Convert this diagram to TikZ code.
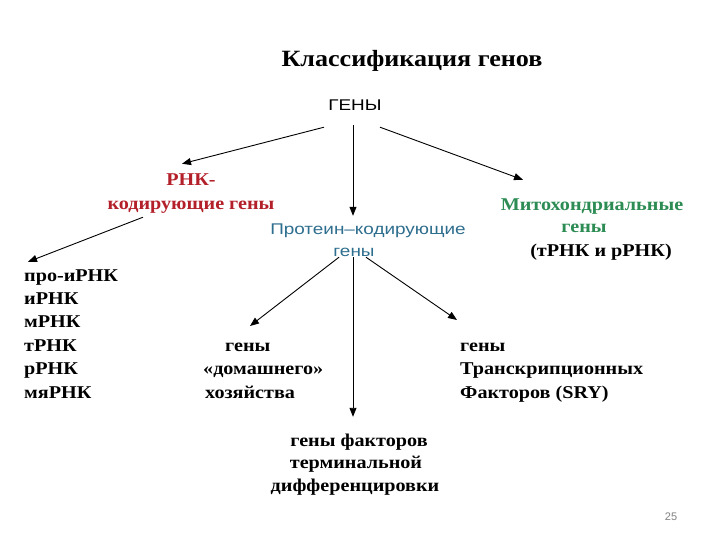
\documentclass[tikz,border=0pt]{standalone}
\usepackage{fontspec}
\setmainfont[FakeStretch=1.12]{Liberation Serif}
\newfontfamily\sansf[FakeStretch=1.22]{Liberation Sans}
\newfontfamily\plainsans{Liberation Sans}
\usetikzlibrary{arrows.meta}
\definecolor{rnared}{RGB}{180,32,42}
\definecolor{mitogreen}{RGB}{44,140,84}
\definecolor{protblue}{RGB}{46,110,142}
\definecolor{pagegray}{RGB}{130,130,130}
\begin{document}
\begin{tikzpicture}[x=1pt,y=-1pt,
  lbl/.style={font=\bfseries\fontsize{18}{22}\selectfont, inner sep=0pt, text height=12pt, text depth=4pt},
  sanslbl/.style={font=\sansf\fontsize{15.5}{19}\selectfont, inner sep=0pt, text height=11pt, text depth=3pt},
  arr/.style={-{Triangle[length=9pt,width=7pt]}, line width=0.9pt}]
\useasboundingbox[fill=white] (0,0) rectangle (720,540);

% title
\node[lbl, font=\bfseries\fontsize{23.3}{27}\selectfont, anchor=base] (title) at (412,67) {Классификация генов};

% top
\node[sanslbl, anchor=base] (genes) at (355,111) {ГЕНЫ};

% RNA-coding
\node[lbl, anchor=base, text=rnared] (rna1) at (191,186) {РНК-};
\node[lbl, anchor=base, text=rnared] (rna2) at (191,210) {кодирующие гены};

% protein-coding
\node[sanslbl, anchor=base, text=protblue] (prot1) at (368,234) {Протеин–кодирующие};
\node[sanslbl, anchor=base, text=protblue] (prot2) at (354,256) {гены};

% mitochondrial
\node[lbl, anchor=base, text=mitogreen] (mito1) at (592,211) {Митохондриальные};
\node[lbl, anchor=base, text=mitogreen] (mito2) at (584,233) {гены};
\node[lbl, anchor=base] (mito3) at (601,256) {(тРНК и рРНК)};

% RNA list
\node[lbl, anchor=base west] (l1) at (24,281) {про-иРНК};
\node[lbl, anchor=base west] (l2) at (24,304.4) {иРНК};
\node[lbl, anchor=base west] (l3) at (24,327.8) {мРНК};
\node[lbl, anchor=base west] (l4) at (24,351.2) {тРНК};
\node[lbl, anchor=base west] (l5) at (24,374.6) {рРНК};
\node[lbl, anchor=base west] (l6) at (24,398) {мяРНК};

% housekeeping
\node[lbl, anchor=base west] (hk1) at (225,351.2) {гены};
\node[lbl, anchor=base west] (hk2) at (203,374.6) {«домашнего»};
\node[lbl, anchor=base west] (hk3) at (205,398) {хозяйства};

% transcription factors
\node[lbl, anchor=base west] (tf1) at (460,351.2) {гены};
\node[lbl, anchor=base west] (tf2) at (460,374.6) {Транскрипционных};
\node[lbl, anchor=base west] (tf3) at (460,398) {Факторов (SRY)};

% terminal differentiation
\node[lbl, anchor=base] (term1) at (359,446) {гены факторов};
\node[lbl, anchor=base] (term2) at (356,468) {терминальной};
\node[lbl, anchor=base] (term3) at (355,491) {дифференцировки};

% page number
\node[font=\plainsans\fontsize{11}{13}\selectfont, text=pagegray, anchor=base, inner sep=0pt] (pnum) at (671,520) {25};

% arrows
\draw[arr] ([shift={(-31,13)}]genes.south) -- ([shift={(-9,-10)}]rna1.north);
\draw[arr] ([shift={(-2,11)}]genes.south) -- ([shift={(-15,-7)}]prot1.north);
\draw[arr] ([shift={(25,13)}]genes.south) -- ([shift={(-69,-19)}]mito1.north);
\draw[arr] ([shift={(-48,3)}]rna2.south) -- ([shift={(4,-7)}]l1.north west);
\draw[arr] ([shift={(-15,-2)}]prot2.south) -- ([shift={(25,-13)}]hk1.north west);
\draw[arr] ([shift={(-1,-2)}]prot2.south) -- ([shift={(-6,-17)}]term1.north);
\draw[arr] ([shift={(12,-2)}]prot2.south) -- ([shift={(-3,-19)}]tf1.north west);
\end{tikzpicture}
\end{document}
